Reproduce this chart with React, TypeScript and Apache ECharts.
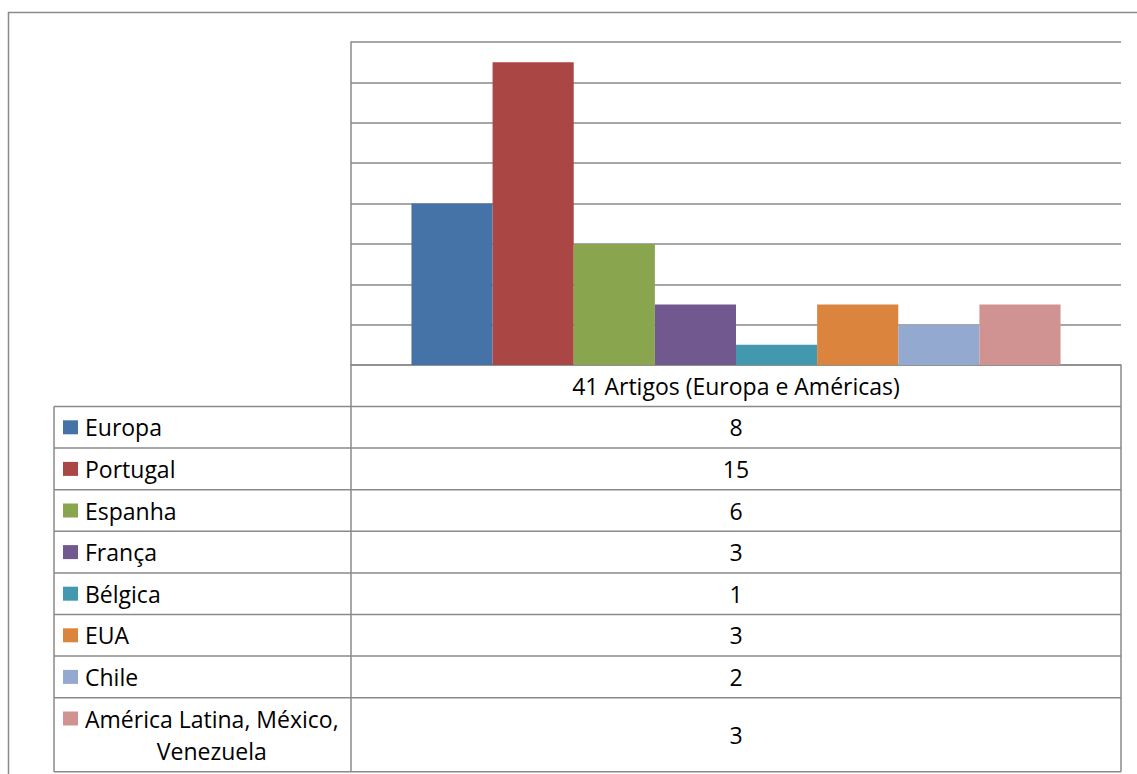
import React, { useEffect, useRef } from "react";
import * as echarts from "echarts";

// Data
const categories = ["41 Artigos (Europa e Américas)"];
const seriesNames = [
  "Europa",
  "Portugal",
  "Espanha",
  "França",
  "Bélgica",
  "EUA",
  "Chile",
  "América Latina, México, Venezuela",
];
const seriesValues = [8, 15, 6, 3, 1, 3, 2, 3];
const seriesColors = [
  "#4572A7",
  "#AA4643",
  "#89A54E",
  "#71588F",
  "#4198AF",
  "#DB843D",
  "#93A9CF",
  "#D19392",
];
const yMin = 0;
const yMax = 16;
const yStep = 2;

// Styling / layout
const FONT = "'Open Sans', Lato, sans-serif";
const FONT_SIZE = 23;
const LINE = "#8a8a8a";
const WIDTH = 1137;
const HEIGHT = 774;
const plot = { left: 351, top: 42, right: 1121, bottom: 365 };
const tableLeft = 54;
const headerBottom = 406.5;
const rowH = 41.6;
const extraLineH = 32.5;
const keyX = 63;
const keySize = 14;
const nameX = 85;
const wrapChars = 24;

function wrap(text: string, max: number): string[] {
  const words = text.split(" ");
  const lines: string[] = [];
  let cur = "";
  for (const w of words) {
    const next = cur ? cur + " " + w : w;
    if (next.length > max && cur) {
      lines.push(cur);
      cur = w;
    } else {
      cur = next;
    }
  }
  if (cur) lines.push(cur);
  return lines;
}

function measure(text: string): number {
  const ctx = document.createElement("canvas").getContext("2d");
  if (!ctx) return text.length * FONT_SIZE * 0.5;
  ctx.font = `${FONT_SIZE}px ${FONT}`;
  return ctx.measureText(text).width;
}

function buildTable(): any[] {
  const els: any[] = [];
  const line = (x1: number, y1: number, x2: number, y2: number) => ({
    type: "line",
    silent: true,
    shape: { x1, y1, x2, y2 },
    style: { stroke: LINE, lineWidth: 1.5 },
  });
  const txt = (text: string, x: number, y: number, align: string) => ({
    type: "text",
    silent: true,
    x,
    y,
    style: {
      text,
      fill: "#000",
      fontSize: FONT_SIZE,
      fontFamily: FONT,
      align,
      verticalAlign: "middle",
    },
  });

  // outer chart frame
  els.push({
    type: "rect",
    silent: true,
    shape: { x: 8.5, y: 12.5, width: 1300, height: 900 },
    style: { fill: "none", stroke: LINE, lineWidth: 1.5 },
  });

  let y = headerBottom;
  els.push(line(tableLeft, y, plot.right, y));
  const centerX = (plot.left + plot.right) / 2;

  seriesNames.forEach((name, i) => {
    const lines = wrap(name, wrapChars);
    const h = rowH + (lines.length - 1) * extraLineH;
    const mid = y + h / 2;
    const firstY = mid - ((lines.length - 1) * extraLineH) / 2;

    els.push({
      type: "rect",
      silent: true,
      shape: { x: keyX, y: firstY - keySize / 2, width: keySize + 1, height: keySize },
      style: { fill: seriesColors[i] },
    });

    if (lines.length === 1) {
      els.push(txt(lines[0], nameX, mid, "left"));
    } else {
      const blockW = Math.max(...lines.map(measure));
      const cx = nameX + blockW / 2;
      lines.forEach((l, k) => els.push(txt(l, cx, firstY + k * extraLineH, "center")));
    }

    els.push(txt(String(seriesValues[i]), centerX, mid, "center"));

    y += h;
    els.push(line(tableLeft, y, plot.right, y));
  });

  const tableBottom = y;
  els.push(line(tableLeft, headerBottom, tableLeft, tableBottom));
  els.push(line(plot.left, plot.bottom, plot.left, tableBottom));
  els.push(line(plot.right, plot.bottom, plot.right, tableBottom));
  return els;
}

export default function App() {
  const ref = useRef<HTMLDivElement>(null);

  useEffect(() => {
    if (!ref.current) return;
    const chart = echarts.init(ref.current, null, { renderer: "svg" });

    const series = seriesNames.map((name, i) => ({
      name,
      type: "bar",
      data: [seriesValues[i]],
      barGap: "0%",
      barCategoryGap: "15.7%",
      itemStyle: { color: seriesColors[i] },
    }));

    chart.setOption({
      animation: false,
      backgroundColor: "#fff",
      textStyle: { fontFamily: FONT },
      grid: {
        left: plot.left,
        top: plot.top,
        width: plot.right - plot.left,
        height: plot.bottom - plot.top,
        containLabel: false,
      },
      xAxis: {
        type: "category",
        data: categories,
        axisLine: { show: true, lineStyle: { color: LINE, width: 1.5 } },
        axisTick: { show: false },
        axisLabel: {
          show: true,
          color: "#000",
          fontSize: FONT_SIZE,
          fontFamily: FONT,
          margin: 9,
        },
      },
      yAxis: {
        type: "value",
        min: yMin,
        max: yMax,
        interval: yStep,
        axisLine: { show: true, lineStyle: { color: LINE, width: 1.5 } },
        axisTick: { show: false },
        axisLabel: { show: false },
        splitLine: { show: true, lineStyle: { color: LINE, width: 1.5 } },
      },
      series,
      graphic: { elements: buildTable() },
    });

    return () => chart.dispose();
  }, []);

  return (
    <div
      ref={ref}
      style={{ position: "fixed", left: 0, top: 0, width: WIDTH, height: HEIGHT }}
    />
  );
}
